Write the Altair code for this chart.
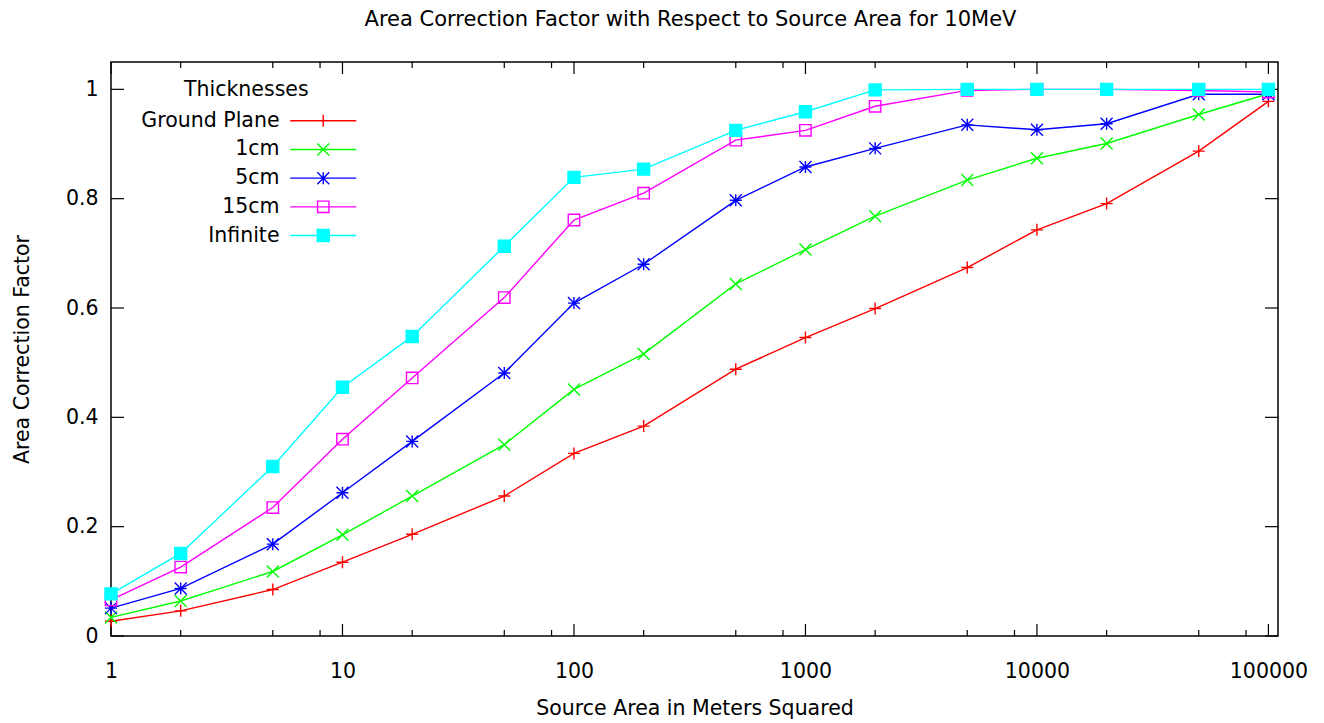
import altair as alt
import pandas as pd

# ---------------- data ----------------
x_vals = [1, 2, 5, 10, 20, 50, 100, 200, 500, 1000, 2000, 5000, 10000, 20000, 50000, 100000]
series_names = ["Ground Plane", "1cm", "5cm", "15cm", "Infinite"]
ground_plane = [0.027, 0.046, 0.085, 0.135, 0.186, 0.256, 0.334, 0.384, 0.488, 0.546, 0.599, 0.674, 0.743, 0.791, 0.887, 0.978]
cm1 = [0.034, 0.064, 0.118, 0.185, 0.256, 0.350, 0.451, 0.516, 0.644, 0.707, 0.768, 0.834, 0.874, 0.901, 0.954, 0.992]
cm5 = [0.051, 0.087, 0.168, 0.262, 0.356, 0.481, 0.609, 0.680, 0.797, 0.858, 0.892, 0.935, 0.926, 0.937, 0.991, 0.991]
cm15 = [0.066, 0.126, 0.235, 0.360, 0.472, 0.619, 0.761, 0.810, 0.907, 0.925, 0.969, 0.998, 1.0, 1.0, 0.998, 0.995]
infinite = [0.077, 0.151, 0.310, 0.455, 0.548, 0.713, 0.839, 0.854, 0.925, 0.959, 0.999, 1.0, 1.0, 1.0, 1.0, 1.0]

series_colors = ["#ff0000", "#00ff00", "#0000ff", "#ff00ff", "#00ffff"]
series_fills = ["transparent", "transparent", "transparent", "transparent", "#00ffff"]

x_major = [1, 10, 100, 1000, 10000, 100000]
x_minor = [2, 5, 8, 20, 50, 80, 200, 500, 800, 2000, 5000, 8000, 20000, 50000, 80000]
y_major = [0, 0.2, 0.4, 0.6, 0.8, 1.0]

# marker glyphs (gnuplot style): plus, cross, asterisk, open square, filled square
marker_paths = [
    "M-1,0H1M0,-1V1",
    "M-1,-1L1,1M-1,1L1,-1",
    "M-1,0H1M0,-1V1M-1,-1L1,1M-1,1L1,-1",
    "M-0.95,-0.95H0.95V0.95H-0.95Z",
    "M-1,-1H1V1H-1Z",
]
legend_paths = ["M-5.5,0H5.5" + p for p in marker_paths]

rows = []
for name, vals in zip(series_names, [ground_plane, cm1, cm5, cm15, infinite]):
    for xv, yv in zip(x_vals, vals):
        rows.append({"series": name, "area": xv, "factor": yv})
df = pd.DataFrame(rows)

xmaj_df = pd.DataFrame({"t": x_major})
xmin_df = pd.DataFrame({"t": x_minor})
ymaj_df = pd.DataFrame({"t": y_major})

# ---------------- styling ----------------
W, H = 1167, 574
FONT = "DejaVu Sans"
FS = 20.5

xscale = alt.Scale(type="log", domain=[1, 110000], nice=False)
yscale = alt.Scale(domain=[0, 1.05], nice=False, zero=False)

xaxis = alt.Axis(values=x_major, format="d", ticks=False, domain=False, grid=False,
                 labelFontSize=FS, labelPadding=25, labelColor="black", labelFlush=False,
                 labelOverlap=False, labelFont=FONT,
                 title="Source Area in Meters Squared", titleFontSize=FS, titleFont=FONT,
                 titleFontWeight="normal", titleColor="black", titlePadding=17)
yaxis = alt.Axis(values=y_major, format="~g", ticks=False, domain=False, grid=False,
                 labelFontSize=FS, labelPadding=13, labelColor="black", labelFont=FONT,
                 labelOverlap=False,
                 title="Area Correction Factor", titleFontSize=FS, titleFont=FONT,
                 titleFontWeight="normal", titleColor="black", titlePadding=33)

X = alt.X("area:Q", scale=xscale, axis=xaxis)
Y = alt.Y("factor:Q", scale=yscale, axis=yaxis)

def xtick(data, y0, y1):
    return alt.Chart(data).mark_rule(color="black", strokeWidth=1.2).encode(
        x=alt.X("t:Q", scale=xscale, axis=xaxis),
        y=alt.value(y0), y2=alt.value(y1))

def ytick(data, x0, x1):
    return alt.Chart(data).mark_rule(color="black", strokeWidth=1.2).encode(
        y=alt.Y("t:Q", scale=yscale, axis=yaxis),
        x=alt.value(x0), x2=alt.value(x1))

ticks = [
    xtick(xmaj_df, H, H - 12), xtick(xmin_df, H, H - 6),
    xtick(xmaj_df, 0, 12), xtick(xmin_df, 0, 6),
    ytick(ymaj_df, 0, 13), ytick(ymaj_df, W, W - 13),
]

lines = alt.Chart(df).mark_line(strokeWidth=1.4).encode(
    x=X, y=Y,
    stroke=alt.Stroke("series:N", scale=alt.Scale(domain=series_names, range=series_colors), legend=None),
    order=alt.Order("area:Q"),
)

points = alt.Chart(df).mark_point(filled=False, size=144, strokeWidth=1.4, opacity=1).encode(
    x=X, y=Y,
    stroke=alt.Stroke("series:N", scale=alt.Scale(domain=series_names, range=series_colors), legend=None),
    fill=alt.Fill("series:N", scale=alt.Scale(domain=series_names, range=series_fills), legend=None),
    shape=alt.Shape("series:N", scale=alt.Scale(domain=series_names, range=marker_paths), legend=None),
)

leg = alt.Legend(title="Thicknesses", orient="none", legendX=73, legendY=18, direction="vertical",
                 labelAlign="right", labelOffset={"expr": "-54"}, symbolOffset=129,
                 labelFontSize=FS, labelFont=FONT,
                 labelColor="black", titleFontSize=FS, titleFont=FONT, titleFontWeight="normal",
                 titleColor="black", titleAnchor="start", titleAlign="left", titlePadding=10,
                 rowPadding=7.7, symbolSize=144, symbolStrokeWidth=1.4, labelLimit=400)

legend_layer = alt.Chart(df).transform_filter("false").mark_point(filled=False, size=144, strokeWidth=1.4, opacity=1).encode(
    x=X, y=Y,
    stroke=alt.Stroke("series:N", scale=alt.Scale(domain=series_names, range=series_colors), legend=leg),
    fill=alt.Fill("series:N", scale=alt.Scale(domain=series_names, range=series_fills), legend=leg),
    shape=alt.Shape("series:N", scale=alt.Scale(domain=series_names, range=legend_paths), legend=leg),
)

chart = alt.layer(*ticks, lines, points, legend_layer).resolve_scale(
    stroke="independent", fill="independent", shape="independent"
).properties(
    width=W, height=H,
    padding={"left": 103, "top": 54, "right": 36, "bottom": 84},
    autosize=alt.AutoSizeParams(type="none"),
    title=alt.Title("Area Correction Factor with Respect to Source Area for 10MeV",
                    fontSize=21, font=FONT, fontWeight="normal", color="black",
                    anchor="middle", offset=31, dx=-4),
).configure(font=FONT, background="white").configure_view(stroke="black", strokeWidth=1.5)

chart.save("out.html", embed_options={"renderer": "svg", "actions": False})
